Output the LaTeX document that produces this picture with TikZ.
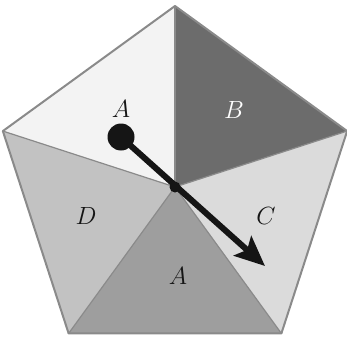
\documentclass[tikz,border=0pt]{standalone}
\usetikzlibrary{arrows.meta,calc}
\definecolor{edge}{HTML}{8A8A8A}
\definecolor{pale}{HTML}{F3F3F3}
\definecolor{dark}{HTML}{6C6C6C}
\definecolor{light}{HTML}{DBDBDB}
\definecolor{mid}{HTML}{9E9E9E}
\definecolor{soft}{HTML}{C2C2C2}
\definecolor{ink}{HTML}{151515}
\tikzset{
  sector/.style={draw=edge,line width=2pt,line join=round},
  lbl/.style={font=\fontsize{30}{34}\selectfont,text=ink,inner sep=0pt},
  spin/.style={draw=ink,line width=6pt,-{Stealth[length=30pt,width=26pt,inset=6pt]}},
}
\begin{document}
\begin{tikzpicture}[x=1pt,y=1pt]
\useasboundingbox (0,0) rectangle (347,338);
\coordinate (o) at (175,151);
\foreach \a/\n in {90/t,162/l,234/bl,306/br,18/r}
  \coordinate (\n) at ($(o)+(\a:181)$);
% the five sectors
\fill[pale] (o) -- (t) -- (l) -- cycle;
\fill[dark] (o) -- (r) -- (t) -- cycle;
\fill[light] (o) -- (br) -- (r) -- cycle;
\fill[mid] (o) -- (bl) -- (br) -- cycle;
\fill[soft] (o) -- (l) -- (bl) -- cycle;
\foreach \n in {t,l,bl,br,r}
  \draw[edge,line width=1.2pt] (o) -- (\n);
\draw[sector] (t) -- (l) -- (bl) -- (br) -- (r) -- cycle;
% labels
\node[lbl] (la) at (121,229) {$A$};
\node[lbl,text=white] (lb) at (234,228) {$B$};
\node[lbl] (lc) at (266,122) {$C$};
\node[lbl] (ld) at (86,122) {$D$};
\node[lbl] (le) at (178,62) {$A$};
% spinner
\coordinate (tail) at (121,201);
\coordinate (tip) at (265,72);
\draw[spin] (tail) -- (tip);
\fill[ink] (tail) circle (13.5);
\fill[ink] (o) circle (5.5);
\end{tikzpicture}
\end{document}
